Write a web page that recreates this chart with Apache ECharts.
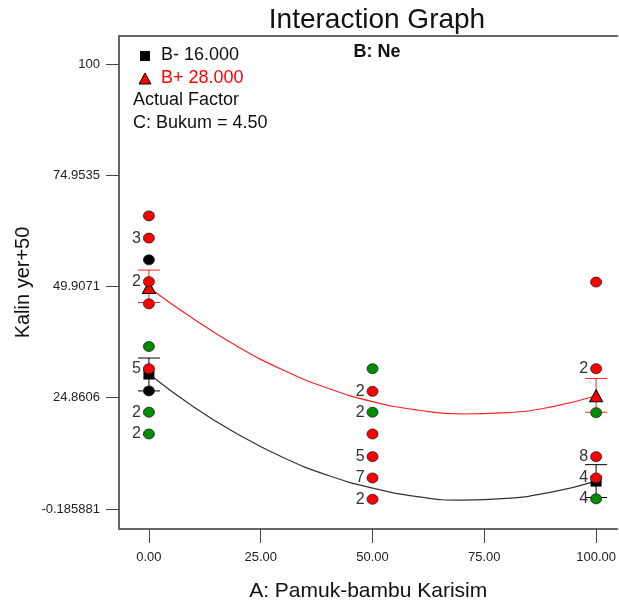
<!DOCTYPE html>
<html>
<head>
<meta charset="utf-8">
<script src="https://cdn.jsdelivr.net/npm/echarts@6/dist/echarts.min.js"></script>
<style>
  html, body { margin: 0; padding: 0; background: #fff; overflow: hidden; }
  #chart { width: 619px; height: 608px; }
</style>
</head>
<body>
<div id="chart"></div>
<script>
// Axis ticks
const xTicks = [0, 25, 50, 75, 100];
const yTicks = [-0.185881, 24.8606, 49.9071, 74.9535, 100];
const yTickLabels = ['-0.185881', '24.8606', '49.9071', '74.9535', '100'];

// Fitted interaction curves (A: Pamuk-bambu Karisim vs response)
const curveX = [0, 10, 20, 30, 40, 50, 60, 70, 80, 90, 100];
const curveLow = [30.2, 22.8, 16.6, 11.4, 7.4, 4.5, 2.6, 1.8, 2.2, 3.6, 6.1];   // B- 16.000
const curveHigh = [49.7, 42.6, 36.3, 31.1, 27.0, 24.0, 22.1, 21.2, 21.5, 22.8, 25.3]; // B+ 28.000

// Mean points with LSD bars
const meanX = [0, 100];
const meanLow = [30.2, 6.1];
const meanHigh = [49.7, 25.3];
const barLowMin = [26.4, 2.4];
const barLowMax = [33.8, 9.8];
const barHighMin = [46.3, 21.6];
const barHighMax = [53.6, 29.2];

// Design points: [A, response, replicate count label]
const redPoints = [
  [0, 65.8, ''], [0, 60.8, '3'], [0, 51.0, '2'], [0, 46.0, ''], [0, 31.4, '5'],
  [50, 26.3, '2'], [50, 16.7, ''], [50, 11.6, '5'], [50, 6.8, '7'], [50, 2.0, '2'],
  [100, 50.9, ''], [100, 31.4, '2'], [100, 11.6, '8'], [100, 6.8, '4']
];
const greenPoints = [
  [0, 36.4, ''], [0, 21.6, '2'], [0, 16.7, '2'],
  [50, 31.4, ''], [50, 21.6, '2'],
  [100, 21.5, ''], [100, 2.1, '4']
];
const blackPoints = [
  [0, 55.9, ''], [0, 26.4, '']
];

const FONT = '"Liberation Sans", Arial, sans-serif';
const AXIS_GRAY = '#666';

function zip(xs, ys) { return xs.map((x, i) => [x, ys[i]]); }
function bars(xs, lo, hi) { return xs.map((x, i) => [x, lo[i], hi[i]]); }

function errorBar(color) {
  return function (params, api) {
    const x = api.value(0);
    const pLo = api.coord([x, api.value(1)]);
    const pHi = api.coord([x, api.value(2)]);
    const w = 11;
    const style = { stroke: color, lineWidth: 1 };
    return {
      type: 'group',
      children: [
        { type: 'line', shape: { x1: pLo[0], y1: pLo[1], x2: pHi[0], y2: pHi[1] }, style },
        { type: 'line', shape: { x1: pLo[0] - w, y1: pLo[1], x2: pLo[0] + w, y2: pLo[1] }, style },
        { type: 'line', shape: { x1: pHi[0] - w, y1: pHi[1], x2: pHi[0] + w, y2: pHi[1] }, style }
      ]
    };
  };
}

function pointSeries(data, color) {
  return {
    type: 'scatter',
    data: data,
    symbol: 'circle',
    symbolSize: [11, 10],
    z: 10,
    itemStyle: { color: color, borderColor: '#222', borderWidth: 0.8, opacity: 1 },
    label: {
      show: true,
      position: 'left',
      distance: 2,
      formatter: p => p.data[2],
      fontFamily: FONT,
      fontSize: 16,
      color: '#333'
    }
  };
}

const chart = echarts.init(document.getElementById('chart'));
chart.setOption({
  animation: false,
  backgroundColor: '#fff',
  title: [
    {
      text: 'Interaction Graph',
      left: 372, top: 1, textAlign: 'center',
      textStyle: { fontFamily: FONT, fontSize: 28, fontWeight: 'normal', color: '#111' }
    },
    {
      text: 'B: Ne',
      left: 372, top: 38, textAlign: 'center',
      textStyle: { fontFamily: FONT, fontSize: 18, fontWeight: 'bold', color: '#111' }
    }
  ],
  grid: { left: 119, right: 0, top: 36, bottom: 79 },
  xAxis: [
    {
      type: 'value',
      min: -6.69, max: 104.75,
      name: 'A: Pamuk-bambu Karisim',
      nameLocation: 'middle',
      nameGap: 52,
      nameMoveOverlap: false,
      nameTextStyle: { fontFamily: FONT, fontSize: 21, color: '#111' },
      axisLine: { show: true, onZero: false, lineStyle: { color: AXIS_GRAY, width: 2 } },
      axisTick: { show: true, length: 14, customValues: xTicks, lineStyle: { color: '#444', width: 1 } },
      axisLabel: {
        customValues: xTicks,
        margin: 22,
        formatter: v => v.toFixed(2),
        fontFamily: FONT, fontSize: 13, color: '#222'
      },
      splitLine: { show: false }
    },
    {
      type: 'value',
      position: 'top',
      min: -6.69, max: 104.75,
      axisLine: { show: true, onZero: false, lineStyle: { color: AXIS_GRAY, width: 2 } },
      axisTick: { show: false },
      axisLabel: { show: false },
      splitLine: { show: false }
    }
  ],
  yAxis: {
    type: 'value',
    min: -4.689, max: 106.3,
    name: 'Kalin yer+50',
    nameLocation: 'middle',
    nameGap: 86,
    nameMoveOverlap: false,
    nameTextStyle: { fontFamily: FONT, fontSize: 20, color: '#111' },
    axisLine: { show: true, onZero: false, lineStyle: { color: AXIS_GRAY, width: 2 } },
    axisTick: { show: true, length: 13, customValues: yTicks, lineStyle: { color: '#444', width: 1 } },
    axisLabel: {
      customValues: yTicks,
      margin: 19,
      formatter: v => {
        let best = 0;
        yTicks.forEach((t, i) => { if (Math.abs(t - v) < Math.abs(yTicks[best] - v)) best = i; });
        return yTickLabels[best];
      },
      fontFamily: FONT, fontSize: 13, color: '#222'
    },
    splitLine: { show: false }
  },
  graphic: [
    { type: 'rect', shape: { x: 140, y: 51, width: 10, height: 10 }, style: { fill: '#000' } },
    {
      type: 'text', left: 161, top: 46,
      style: { text: 'B- 16.000', fill: '#111', font: '18px "Liberation Sans", Arial, sans-serif' }
    },
    {
      type: 'polygon', shape: { points: [[145, 73], [151, 84], [139, 84]] },
      style: { fill: '#ff0000', stroke: '#000', lineWidth: 1 }
    },
    {
      type: 'text', left: 161, top: 69,
      style: { text: 'B+ 28.000', fill: '#ff0000', font: '18px "Liberation Sans", Arial, sans-serif' }
    },
    {
      type: 'text', left: 133, top: 91,
      style: { text: 'Actual Factor', fill: '#111', font: '18px "Liberation Sans", Arial, sans-serif' }
    },
    {
      type: 'text', left: 133, top: 114,
      style: { text: 'C: Bukum = 4.50', fill: '#111', font: '18px "Liberation Sans", Arial, sans-serif' }
    }
  ],
  series: [
    {
      type: 'line', data: zip(curveX, curveLow), smooth: true, showSymbol: false, z: 2,
      lineStyle: { color: '#333', width: 1.2 }
    },
    {
      type: 'line', data: zip(curveX, curveHigh), smooth: true, showSymbol: false, z: 2,
      lineStyle: { color: '#ff2222', width: 1.2 }
    },
    { type: 'custom', data: bars(meanX, barLowMin, barLowMax), renderItem: errorBar('#000'), z: 3 },
    { type: 'custom', data: bars(meanX, barHighMin, barHighMax), renderItem: errorBar('#ff2222'), z: 3 },
    {
      type: 'scatter', data: zip(meanX, meanLow), symbol: 'rect', symbolSize: 11, z: 4,
      itemStyle: { color: '#000', opacity: 1 }
    },
    {
      type: 'scatter', data: zip(meanX, meanHigh), symbol: 'triangle', symbolSize: [13, 12], z: 4,
      itemStyle: { color: '#ff0000', borderColor: '#000', borderWidth: 1, opacity: 1 }
    },
    pointSeries(redPoints, '#ff0000'),
    pointSeries(greenPoints, '#008c00'),
    pointSeries(blackPoints, '#000')
  ]
});
</script>
</body>
</html>
